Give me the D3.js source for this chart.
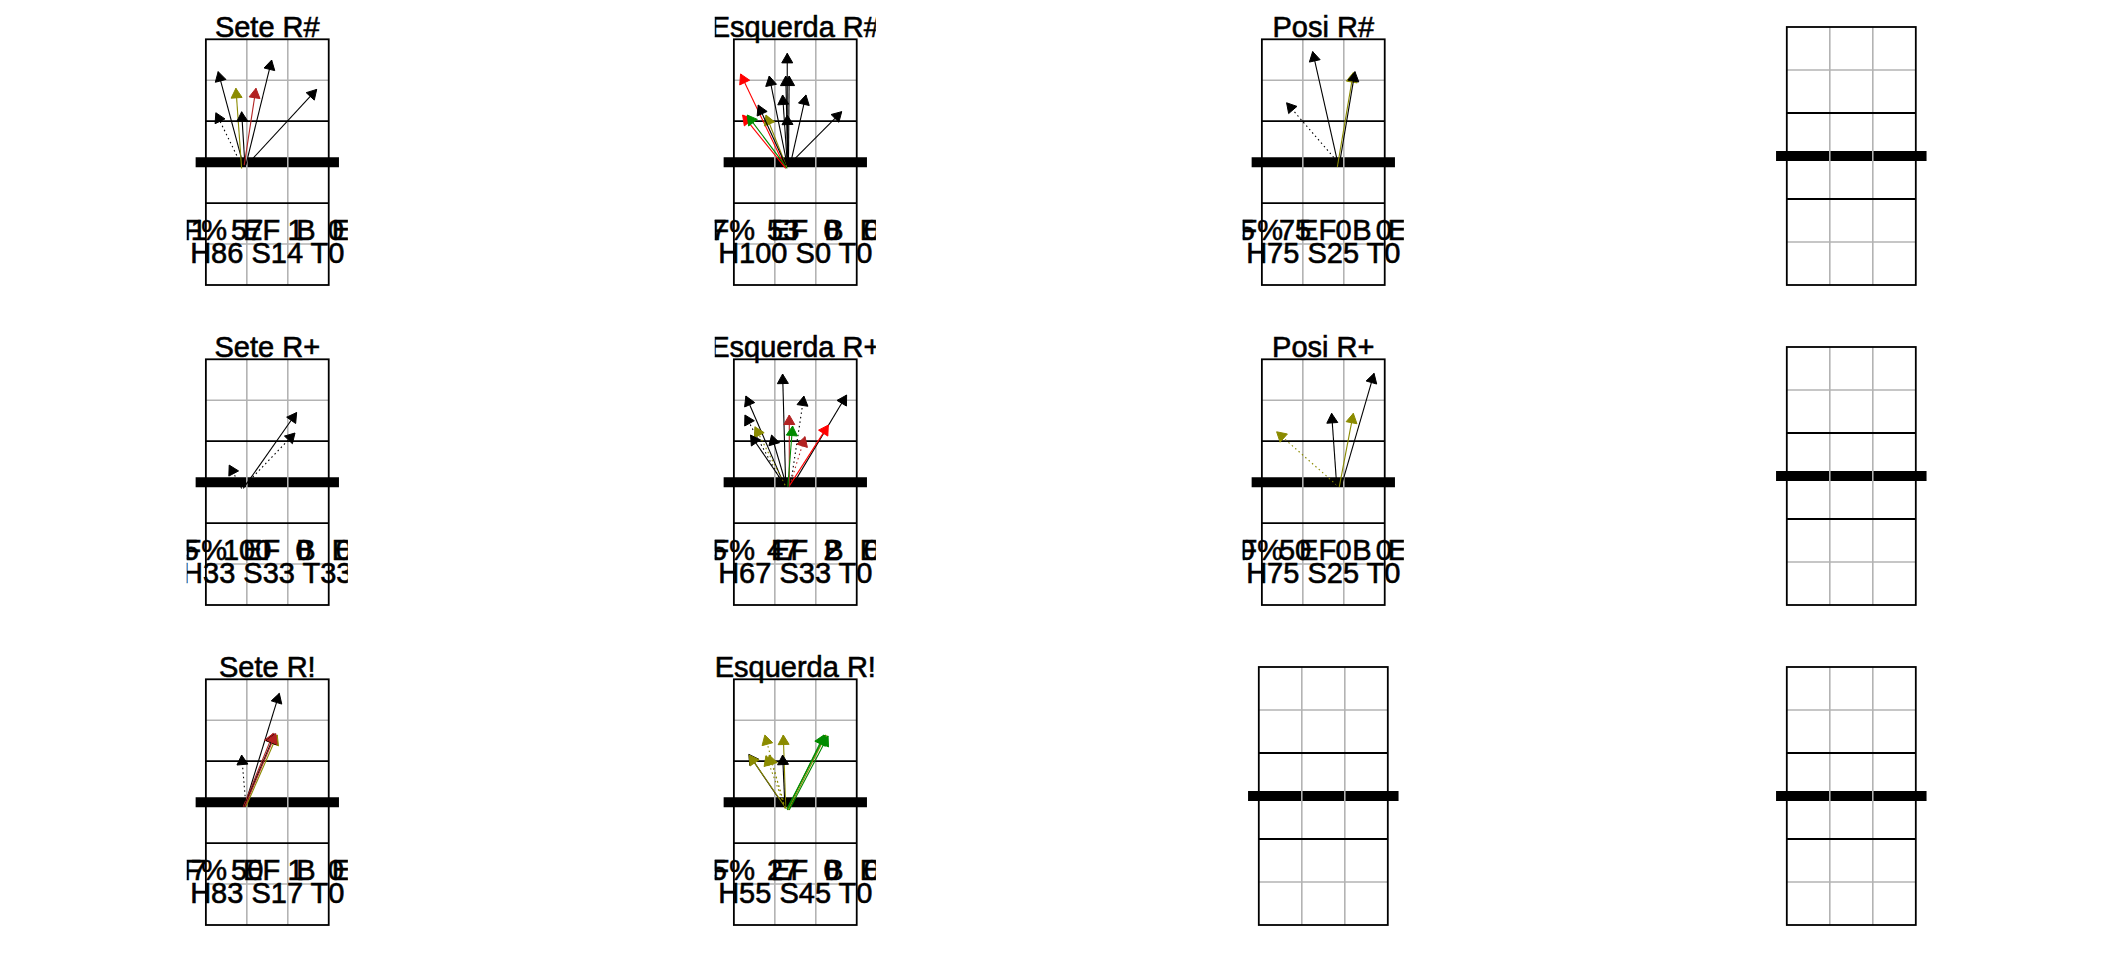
<!DOCTYPE html>
<html><head><meta charset="utf-8">
<script src="https://cdn.jsdelivr.net/npm/d3@7"></script>
<style>body{margin:0;background:#fff}svg{display:block}</style>
</head><body>
<svg id="chart" width="2112" height="960"></svg>
<script>
// ---------------- data ----------------
const panelTitles = ["Sete R#","Esquerda R#","Posi R#",null,
                     "Sete R+","Esquerda R+","Posi R+",null,
                     "Sete R!","Esquerda R!",null,null];
const statLabels = "F%  EF  B  E";
const statValues = ["1   57   1   0","7     53   0   0","5   75   0   0  ",
                    "5   100   0   0","5     47   2   0","0   50   0   0  ",
                    "7   50   1   0","5     27   0   0"];
const typeLines = ["H86 S14 T0","H100 S0 T0","H75 S25 T0",
                   "H33 S33 T33","H67 S33 T0","H75 S25 T0",
                   "H83 S17 T0","H55 S45 T0"];
const outcomeCodes = ["k","o","f","r","g"];
const outcomeColors = ["#000000","#8b8b00","#b22222","#ff0000","#008b00"];
// arrows: [x0, y0, x1, y1, outcome, lineType] in court metres (x 0-9, y 0-18 from top)
const arrowsSeteHash = [
  [2.74,9.22,0.90,2.37,"k","solid"],[2.55,9.10,0.73,5.38,"k","dotted"],
  [2.62,9.46,2.20,3.59,"o","solid"],[2.86,9.22,2.62,5.31,"k","solid"],
  [2.81,9.22,3.67,3.59,"f","solid"],[2.93,9.22,4.82,1.52,"k","solid"],
  [3.10,9.10,8.12,3.67,"k","solid"]];
const arrowsEsquerdaHash = [
  [3.74,9.34,0.49,2.54,"r","solid"],[3.80,9.46,0.64,5.55,"r","solid"],
  [3.91,9.46,0.98,5.55,"g","solid"],[3.86,9.34,2.35,5.55,"o","solid"],
  [3.80,9.22,1.78,4.82,"k","solid"],[3.91,9.22,2.59,2.69,"k","solid"],
  [3.91,9.10,3.91,1.03,"k","solid"],[3.95,9.10,3.80,2.69,"k","solid"],
  [4.00,9.10,4.05,2.69,"k","solid"],[3.91,9.10,3.57,4.08,"k","solid"],
  [4.00,9.10,3.91,5.55,"k","solid"],[4.15,9.10,5.28,4.08,"k","solid"],
  [4.00,9.22,7.90,5.30,"k","solid"]];
const arrowsPosiHash = [
  [5.48,8.90,1.81,4.65,"k","dotted"],[5.60,9.22,3.72,0.90,"k","solid"],
  [5.53,9.34,6.70,2.44,"o","solid"],[5.67,9.22,6.82,2.37,"k","solid"]];
const arrowsSetePlus = [
  [2.62,9.46,1.71,7.75,"k","dotted"],[2.74,9.46,6.65,3.90,"k","solid"],
  [2.98,9.10,6.53,5.40,"k","dotted"]];
const arrowsEsquerdaPlus = [
  [3.80,9.34,3.57,1.08,"k","solid"],[3.70,9.22,0.88,2.69,"k","solid"],
  [4.15,9.22,5.13,2.69,"k","dotted"],[4.30,9.22,8.26,2.62,"k","solid"],
  [3.62,9.22,0.81,4.08,"k","dotted"],[4.06,9.34,4.06,4.08,"f","solid"],
  [3.75,9.22,1.54,4.94,"o","dotted"],[3.95,9.34,4.30,4.89,"g","solid"],
  [4.10,9.22,6.92,4.82,"r","solid"],[3.65,9.10,1.22,5.55,"k","solid"],
  [3.80,9.10,2.76,5.55,"k","solid"],[4.10,9.22,5.21,5.67,"f","dotted"]];
const arrowsPosiPlus = [
  [5.48,9.22,1.08,5.31,"o","dotted"],[5.48,9.22,5.11,3.96,"k","solid"],
  [5.67,9.34,6.70,3.96,"o","solid"],[5.84,9.22,8.22,1.03,"k","solid"]];
const arrowsSeteExcl = [
  [2.86,9.22,5.38,1.03,"k","solid"],[2.74,9.34,4.94,3.96,"f","solid"],
  [2.93,9.34,5.23,4.08,"o","solid"],[2.93,9.22,2.62,5.55,"k","dotted"],
  [2.80,9.34,5.05,4.00,"k","solid"],[2.84,9.34,5.12,3.98,"f","solid"]];
const arrowsEsquerdaExcl = [
  [3.70,9.34,1.10,5.50,"k","solid"],[3.74,9.34,1.12,5.55,"o","solid"],
  [3.74,9.46,2.27,4.08,"o","dotted"],[3.80,9.46,3.62,4.08,"o","solid"],
  [3.80,9.46,2.59,5.55,"o","dotted"],[3.74,9.34,3.57,5.55,"k","solid"],
  [3.91,9.58,6.60,4.08,"g","solid"],[3.98,9.58,6.75,4.08,"o","solid"],
  [4.05,9.58,6.90,4.15,"g","solid"],[3.75,9.40,2.35,5.60,"o","dotted"],
  [3.88,9.50,6.68,4.10,"g","solid"]];
const panelArrows = [arrowsSeteHash,arrowsEsquerdaHash,arrowsPosiHash,null,
                     arrowsSetePlus,arrowsEsquerdaPlus,arrowsPosiPlus,null,
                     arrowsSeteExcl,arrowsEsquerdaExcl,null,null];

// ---------------- drawing ----------------
const svg = d3.select("#chart");
const color = d3.scaleOrdinal().domain(outcomeCodes).range(outcomeColors);
const dash = {solid:null, dotted:"1.5,3"};
const font = "'Liberation Sans', Arial, sans-serif";
const cellW = 528, cellH = 320;
let textIdx = 0;

panelTitles.forEach((title, i) => {
  const col = i % 4, row = Math.floor(i / 4);
  const cx = 267.3 + col * cellW;
  const bottom = 285 + row * cellH;
  const top = (title ? 39.3 : 27) + row * cellH;
  const h = bottom - top, w = h / 2;
  const x = d3.scaleLinear().domain([0, 9]).range([cx - w / 2, cx + w / 2]);
  const y = d3.scaleLinear().domain([0, 18]).range([top, bottom]);
  const g = svg.append("g");

  // net
  g.append("line").attr("x1", x(-0.75)).attr("x2", x(9.75)).attr("y1", y(9)).attr("y2", y(9))
    .attr("stroke", "#000").attr("stroke-width", 10);
  // gray grid
  [3, 15].forEach(v => g.append("line").attr("x1", x(0)).attr("x2", x(9)).attr("y1", y(v)).attr("y2", y(v))
    .attr("stroke", "#b3b3b3").attr("stroke-width", 1.6));
  [3, 6].forEach(v => g.append("line").attr("x1", x(v)).attr("x2", x(v)).attr("y1", y(0)).attr("y2", y(18))
    .attr("stroke", "#b3b3b3").attr("stroke-width", 1.6));
  // black lines
  [6, 12].forEach(v => g.append("line").attr("x1", x(0)).attr("x2", x(9)).attr("y1", y(v)).attr("y2", y(v))
    .attr("stroke", "#000").attr("stroke-width", 1.8));
  g.append("rect").attr("x", x(0)).attr("y", y(0)).attr("width", x(9) - x(0)).attr("height", y(18) - y(0))
    .attr("fill", "none").attr("stroke", "#000").attr("stroke-width", 1.8);

  if (!title) return;
  const k = textIdx++;
  const clipId = "clip" + i;
  svg.append("clipPath").attr("id", clipId).append("rect")
    .attr("x", x(-1.4)).attr("y", top - 40).attr("width", x(10.4) - x(-1.4)).attr("height", h + 60);
  const tg = svg.append("g").attr("clip-path", `url(#${clipId})`)
    .attr("font-family", font).attr("font-size", 29).attr("text-anchor", "middle")
    .attr("fill", "#000").attr("stroke", "#000").attr("stroke-width", 0.6);
  tg.append("text").attr("x", x(4.5)).attr("y", top - 2).text(title);
  tg.append("text").attr("x", x(4.5)).attr("y", y(14.7)).attr("xml:space", "preserve")
    .style("white-space", "pre").text(statLabels);
  tg.append("text").attr("x", x(4.5)).attr("y", y(14.7)).attr("xml:space", "preserve")
    .style("white-space", "pre").text(statValues[k]);
  tg.append("text").attr("x", x(4.5)).attr("y", y(16.42)).text(typeLines[k]);

  // arrows
  const ag = svg.append("g");
  const L = 11, ang = Math.PI / 6;
  panelArrows[i].forEach(a => {
    const [x0, y0, x1, y1, oc, lt] = a;
    const px0 = x(x0), py0 = y(y0), px1 = x(x1), py1 = y(y1);
    const th = Math.atan2(py1 - py0, px1 - px0);
    ag.append("line").attr("x1", px0).attr("y1", py0).attr("x2", px1).attr("y2", py1)
      .attr("stroke", color(oc)).attr("stroke-width", 1.1)
      .attr("stroke-dasharray", dash[lt]);
    const p1 = [px1 - L * Math.cos(th - ang), py1 - L * Math.sin(th - ang)];
    const p2 = [px1 - L * Math.cos(th + ang), py1 - L * Math.sin(th + ang)];
    ag.append("path").attr("d", `M${px1},${py1}L${p1[0]},${p1[1]}L${p2[0]},${p2[1]}Z`)
      .attr("fill", color(oc)).attr("stroke", color(oc)).attr("stroke-width", 1);
  });
});
</script>
</body></html>
